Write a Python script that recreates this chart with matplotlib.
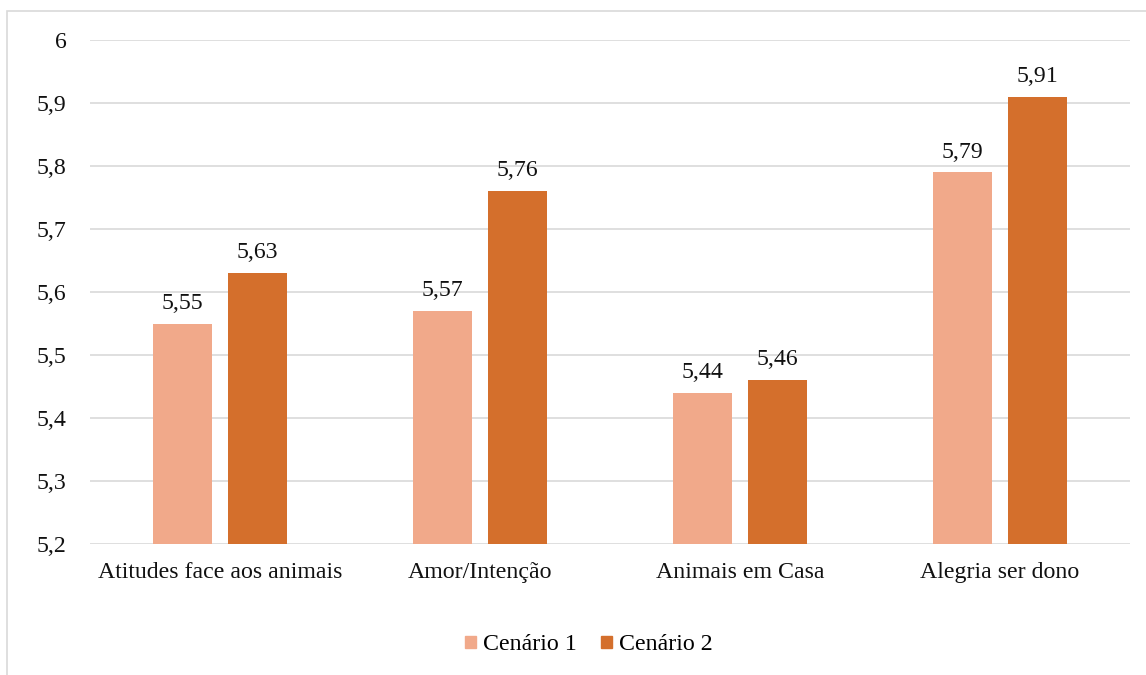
import numpy as np
import matplotlib.pyplot as plt
from matplotlib.patches import Rectangle, Patch

categories = ["Atitudes face aos animais", "Amor/Intenção", "Animais em Casa", "Alegria ser dono"]
cenario_1 = [5.55, 5.57, 5.44, 5.79]
cenario_2 = [5.63, 5.76, 5.46, 5.91]
series_names = ["Cenário 1", "Cenário 2"]
y_ticks = [5.2, 5.3, 5.4, 5.5, 5.6, 5.7, 5.8, 5.9, 6.0]

c1 = "#F1A98A"
c2 = "#D46F2C"
fs = 17.2

plt.rcParams['font.family'] = ['Liberation Serif', 'DejaVu Serif']

fig = plt.figure(figsize=(11.46, 6.75), dpi=100)
# chart frame (only left/top edges visible in the crop)
fig.patches.append(Rectangle((7 / 1146, -0.1), 1.2, 1 - 11 / 675 + 0.1,
                             transform=fig.transFigure, fill=False,
                             edgecolor="#D9D9D9", linewidth=1.2))

ax = fig.add_axes([90 / 1146, 1 - 544 / 675, (1130 - 90) / 1146, (544 - 40) / 675])

x = np.arange(len(categories))
w = 0.227
off = 0.144
b1 = ax.bar(x - off, np.array(cenario_1) - 5.2, w, bottom=5.2, color=c1, zorder=3)
b2 = ax.bar(x + off, np.array(cenario_2) - 5.2, w, bottom=5.2, color=c2, zorder=3)

for bars, vals in ((b1, cenario_1), (b2, cenario_2)):
    for r, v in zip(bars, vals):
        ax.annotate(f"{v:.2f}".replace(".", ","), (r.get_x() + r.get_width() / 2, v),
                    xytext=(0, 7), textcoords="offset points", ha="center", va="bottom",
                    fontsize=fs, color="#111111")

ax.set_xlim(-0.5, len(categories) - 0.5)
ax.set_ylim(5.2, 6.0)
ax.set_yticks(y_ticks)
ax.set_yticklabels([("%.1f" % t).replace(".", ",") if t != 6.0 else "6" for t in y_ticks])
ax.set_xticks(x)
ax.set_xticklabels(categories)
ax.tick_params(axis="both", length=0, labelsize=fs, colors="#111111")
ax.tick_params(axis="y", pad=17)
ax.tick_params(axis="x", pad=13)
ax.grid(axis="y", color="#D9D9D9", linewidth=1.2, zorder=0)
for s in ax.spines.values():
    s.set_visible(False)

handles = [Patch(color=c1, label=series_names[0]), Patch(color=c2, label=series_names[1])]
fig.legend(handles=handles, loc="center", bbox_to_anchor=(589 / 1146, 1 - 645 / 675), ncol=2,
           frameon=False, fontsize=fs, handlelength=0.45, handleheight=0.45,
           handletextpad=0.3, columnspacing=1.0)

fig.savefig("out.png", dpi=100)
